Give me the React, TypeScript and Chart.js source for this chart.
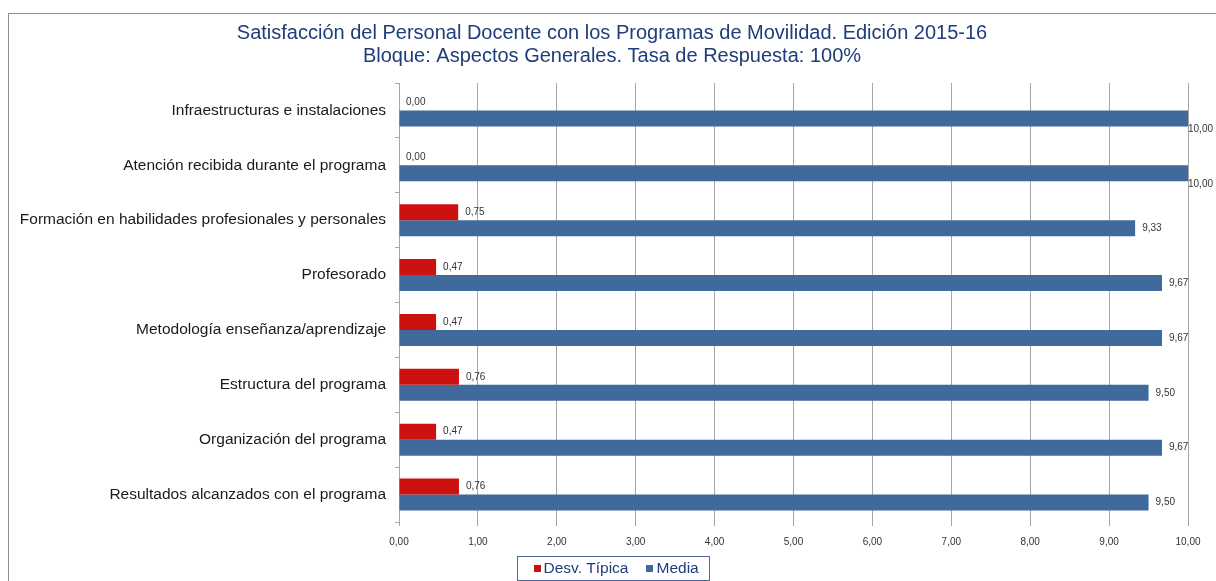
import React, { useEffect, useRef } from "react";
import { Chart, registerables } from "chart.js";

Chart.register(...registerables);

const titleLines = [
  "Satisfacción del Personal Docente con los Programas de Movilidad. Edición 2015-16",
  "Bloque: Aspectos Generales. Tasa de Respuesta: 100%",
];

const categories = [
  "Infraestructuras e instalaciones",
  "Atención recibida durante el programa",
  "Formación en habilidades profesionales y personales",
  "Profesorado",
  "Metodología enseñanza/aprendizaje",
  "Estructura del programa",
  "Organización del programa",
  "Resultados alcanzados con el programa",
];

const desvTipica = [0.0, 0.0, 0.75, 0.47, 0.47, 0.76, 0.47, 0.76];
const media = [10.0, 10.0, 9.33, 9.67, 9.67, 9.5, 9.67, 9.5];

const seriesLabels = ["Desv. Típica", "Media"];
const seriesColors = ["#CC1111", "#3F6A9B"];

const FONT = "'Liberation Sans', Arial, sans-serif";
const NAVY = "#1F3D7A";

const fmt = (v: number) => Number(v).toFixed(2).replace(".", ",");

const frameBorder = {
  id: "frameBorder",
  beforeDraw(chart: any) {
    const ctx = chart.ctx;
    ctx.save();
    ctx.fillStyle = "#ffffff";
    ctx.fillRect(0, 0, chart.width, chart.height);
    ctx.strokeStyle = "#8c8c8c";
    ctx.lineWidth = 1;
    ctx.strokeRect(8.5, 13.5, chart.width + 50, chart.height + 50);
    ctx.restore();
  },
};

// Center the title block over the frame rather than the padded layout box.
const titleShift = {
  id: "titleShift",
  afterLayout(chart: any) {
    const tb = chart.titleBlock;
    if (tb) {
      tb.left = 36;
      tb.right = chart.width - 28;
      tb.width = tb.right - tb.left;
    }
  },
};

const valueLabels = {
  id: "valueLabels",
  afterDatasetsDraw(chart: any) {
    const ctx = chart.ctx;
    const right = chart.chartArea.right;
    ctx.save();
    ctx.font = `10px ${FONT}`;
    ctx.fillStyle = "#333333";
    ctx.textAlign = "left";
    ctx.textBaseline = "middle";
    chart.data.datasets.forEach((ds: any, di: number) => {
      const meta = chart.getDatasetMeta(di);
      meta.data.forEach((el: any, i: number) => {
        const v = ds.data[i];
        let x = el.x + 7;
        let y = el.y;
        if (x > right) {
          x = right;
          y = el.y + 11;
        }
        ctx.fillText(fmt(v), x, y);
      });
    });
    ctx.restore();
  },
};

const boxedLegend = {
  id: "boxedLegend",
  afterDraw(chart: any) {
    const ctx = chart.ctx;
    ctx.save();
    ctx.font = `15.5px ${FONT}`;
    const sq = 7;
    const gapSqText = 3;
    const gapItems = 18;
    const items = chart.data.datasets.map((ds: any) => ({
      label: ds.label,
      color: ds.backgroundColor,
      w: ctx.measureText(ds.label).width,
    }));
    let content = 0;
    items.forEach((it: any, i: number) => {
      content += sq + gapSqText + it.w + (i < items.length - 1 ? gapItems : 0);
    });
    const padL = 16;
    const padR = 11;
    const boxW = Math.round(content + padL + padR);
    const cx = 613;
    const left = Math.round(cx - boxW / 2) + 0.5;
    const top = 556.5;
    const boxH = 24;
    ctx.strokeStyle = "#4A6A9E";
    ctx.lineWidth = 1;
    ctx.strokeRect(left, top, boxW, boxH);
    let x = left + padL;
    const cy = 568.5;
    ctx.textBaseline = "middle";
    ctx.textAlign = "left";
    items.forEach((it: any) => {
      ctx.fillStyle = it.color;
      ctx.fillRect(Math.round(x), Math.round(cy - sq / 2), sq, sq);
      x += sq + gapSqText;
      ctx.fillStyle = NAVY;
      ctx.fillText(it.label, x, cy);
      x += it.w + gapItems;
    });
    ctx.restore();
  },
};

export default function App() {
  const canvasRef = useRef<HTMLCanvasElement | null>(null);

  useEffect(() => {
    if (!canvasRef.current) return;
    const chart = new Chart(canvasRef.current, {
      type: "bar",
      data: {
        labels: categories,
        datasets: [
          {
            label: seriesLabels[0],
            data: desvTipica,
            backgroundColor: seriesColors[0],
            borderWidth: 0,
            categoryPercentage: 0.583,
            barPercentage: 1,
          },
          {
            label: seriesLabels[1],
            data: media,
            backgroundColor: seriesColors[1],
            borderWidth: 0,
            categoryPercentage: 0.583,
            barPercentage: 1,
          },
        ],
      },
      options: {
        indexAxis: "y",
        responsive: false,
        animation: false,
        devicePixelRatio: 1,
        layout: { padding: { left: 0, right: 28, top: 0, bottom: 0 } },
        plugins: {
          legend: { display: false },
          tooltip: { enabled: false },
          title: {
            display: true,
            text: titleLines,
            color: NAVY,
            font: { family: FONT, size: 20, weight: "normal", lineHeight: 1.15 },
            padding: { top: 22, bottom: 15 },
          },
        },
        scales: {
          x: {
            type: "linear",
            min: 0,
            max: 10,
            ticks: {
              stepSize: 1,
              color: "#333333",
              font: { family: FONT, size: 10 },
              padding: 10,
              callback: (v: any) => fmt(v),
            },
            grid: {
              color: "#a6a6a6",
              lineWidth: 1,
              tickLength: 4,
              drawTicks: true,
            },
            border: { display: false },
            afterFit: (scale: any) => {
              scale.height = 59;
            },
          },
          y: {
            type: "category",
            ticks: {
              color: "#1a1a1a",
              font: { family: FONT, size: 15.5 },
              padding: 9,
            },
            grid: {
              drawOnChartArea: false,
              drawTicks: true,
              tickLength: 4,
              color: "#a6a6a6",
              offset: true,
            },
            border: { display: true, color: "#a6a6a6" },
            afterFit: (scale: any) => {
              scale.width = 399;
            },
          },
        },
      },
      plugins: [frameBorder, titleShift, valueLabels, boxedLegend],
    });
    return () => chart.destroy();
  }, []);

  return (
    <div
      style={{
        position: "fixed",
        left: 0,
        top: 0,
        width: 1216,
        height: 581,
        background: "#ffffff",
        overflow: "hidden",
      }}
    >
      <canvas ref={canvasRef} width={1216} height={581} />
    </div>
  );
}
